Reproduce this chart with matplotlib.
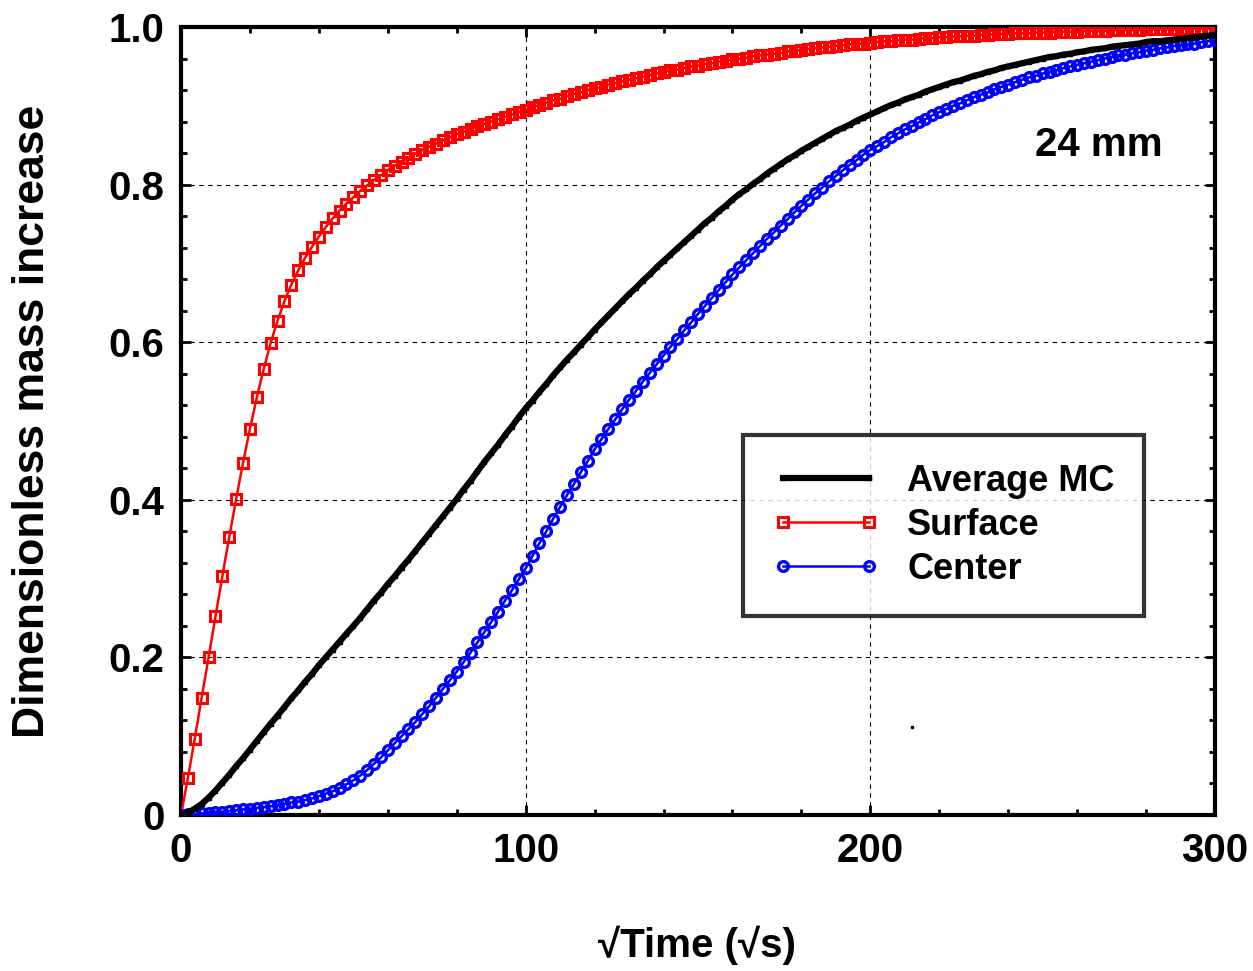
import matplotlib
matplotlib.use("Agg")
import matplotlib.pyplot as plt
import numpy as np
from matplotlib.ticker import MultipleLocator, FixedLocator

plt.rcParams['font.family'] = ['Liberation Sans', 'DejaVu Sans']
plt.rcParams['font.weight'] = 'bold'

# sqrt(time) positions (sqrt s)
sqrt_time = list(range(0, 301, 2))

surface = [
    0.000, 0.047, 0.097, 0.149, 0.200, 0.252, 0.303, 0.353, 0.401, 0.447,
    0.490, 0.530, 0.566, 0.599, 0.627, 0.652, 0.673, 0.691, 0.707, 0.721,
    0.734, 0.746, 0.757, 0.767, 0.776, 0.784, 0.792, 0.799, 0.806, 0.812,
    0.818, 0.824, 0.829, 0.834, 0.839, 0.844, 0.848, 0.852, 0.856, 0.860,
    0.864, 0.867, 0.871, 0.874, 0.877, 0.880, 0.883, 0.886, 0.889, 0.892,
    0.895, 0.898, 0.901, 0.904, 0.907, 0.909, 0.912, 0.915, 0.917, 0.920,
    0.922, 0.924, 0.927, 0.929, 0.931, 0.933, 0.935, 0.937, 0.939, 0.941,
    0.943, 0.945, 0.946, 0.948, 0.950, 0.951, 0.953, 0.954, 0.956, 0.957,
    0.959, 0.960, 0.961, 0.963, 0.964, 0.965, 0.966, 0.967, 0.969, 0.970,
    0.971, 0.972, 0.973, 0.974, 0.975, 0.976, 0.977, 0.978, 0.979, 0.979,
    0.980, 0.981, 0.982, 0.982, 0.983, 0.984, 0.984, 0.985, 0.986, 0.986,
    0.987, 0.987, 0.988, 0.988, 0.989, 0.989, 0.990, 0.990, 0.991, 0.991,
    0.991, 0.992, 0.992, 0.992, 0.993, 0.993, 0.993, 0.994, 0.994, 0.994,
    0.994, 0.995, 0.995, 0.995, 0.995, 0.996, 0.996, 0.996, 0.996, 0.996,
    0.997, 0.997, 0.997, 0.997, 0.997, 0.997, 0.998, 0.998, 0.998, 0.998,
    0.998,
]

average = [
    0.000, 0.003, 0.008, 0.014, 0.022, 0.031, 0.041, 0.051, 0.062, 0.072,
    0.083, 0.094, 0.105, 0.116, 0.126, 0.137, 0.148, 0.158, 0.169, 0.179,
    0.190, 0.200, 0.210, 0.220, 0.230, 0.240, 0.250, 0.261, 0.272, 0.282,
    0.293, 0.303, 0.314, 0.324, 0.335, 0.346, 0.357, 0.368, 0.379, 0.390,
    0.401, 0.413, 0.424, 0.436, 0.448, 0.459, 0.470, 0.482, 0.493, 0.505,
    0.516, 0.526, 0.537, 0.547, 0.558, 0.568, 0.578, 0.587, 0.597, 0.606,
    0.616, 0.625, 0.634, 0.643, 0.652, 0.661, 0.669, 0.678, 0.686, 0.695,
    0.703, 0.711, 0.719, 0.727, 0.735, 0.743, 0.751, 0.758, 0.766, 0.773,
    0.781, 0.788, 0.794, 0.801, 0.807, 0.814, 0.820, 0.826, 0.832, 0.837,
    0.843, 0.848, 0.853, 0.858, 0.863, 0.868, 0.872, 0.876, 0.881, 0.885,
    0.889, 0.893, 0.897, 0.901, 0.904, 0.908, 0.911, 0.914, 0.918, 0.921,
    0.924, 0.927, 0.930, 0.932, 0.935, 0.938, 0.940, 0.943, 0.945, 0.948,
    0.950, 0.952, 0.954, 0.956, 0.958, 0.960, 0.962, 0.963, 0.965, 0.966,
    0.968, 0.969, 0.971, 0.972, 0.973, 0.975, 0.976, 0.977, 0.978, 0.979,
    0.981, 0.982, 0.982, 0.983, 0.984, 0.985, 0.986, 0.987, 0.988, 0.989,
    0.990,
]

center = [
    0.000, 0.001, 0.001, 0.002, 0.003, 0.004, 0.004, 0.005, 0.006, 0.007,
    0.008, 0.009, 0.010, 0.011, 0.013, 0.014, 0.016, 0.017, 0.019, 0.021,
    0.024, 0.027, 0.030, 0.034, 0.039, 0.044, 0.050, 0.057, 0.065, 0.073,
    0.082, 0.091, 0.100, 0.109, 0.118, 0.128, 0.138, 0.149, 0.160, 0.171,
    0.182, 0.194, 0.206, 0.219, 0.232, 0.245, 0.258, 0.272, 0.285, 0.299,
    0.313, 0.329, 0.345, 0.360, 0.376, 0.391, 0.406, 0.420, 0.435, 0.449,
    0.464, 0.477, 0.490, 0.502, 0.515, 0.527, 0.538, 0.550, 0.561, 0.572,
    0.583, 0.594, 0.604, 0.615, 0.625, 0.636, 0.646, 0.656, 0.666, 0.676,
    0.686, 0.695, 0.704, 0.713, 0.722, 0.731, 0.739, 0.748, 0.756, 0.765,
    0.773, 0.781, 0.789, 0.796, 0.804, 0.811, 0.818, 0.825, 0.831, 0.838,
    0.844, 0.849, 0.854, 0.860, 0.865, 0.870, 0.874, 0.879, 0.883, 0.888,
    0.892, 0.896, 0.900, 0.903, 0.907, 0.911, 0.914, 0.917, 0.921, 0.924,
    0.927, 0.930, 0.933, 0.936, 0.938, 0.941, 0.943, 0.945, 0.948, 0.950,
    0.952, 0.954, 0.956, 0.958, 0.960, 0.962, 0.964, 0.965, 0.967, 0.968,
    0.970, 0.971, 0.973, 0.974, 0.976, 0.977, 0.978, 0.979, 0.981, 0.982,
    0.983,
]

# stray dot visible in the original figure
stray_x = [212]
stray_y = [0.112]

x_ticks = [0, 100, 200, 300]
x_tick_labels = ["0", "100", "200", "300"]
y_ticks = [0, 0.2, 0.4, 0.6, 0.8, 1.0]
y_tick_labels = ["0", "0.2", "0.4", "0.6", "0.8", "1.0"]

fig = plt.figure(figsize=(12.53, 9.71), dpi=100)
ax = fig.add_axes([181/1253, 1-815/971, (1215-181)/1253, (815-27)/971])

ax.plot(sqrt_time, average, color='black', lw=4.5, marker='s', ms=3,
        mfc='black', mec='black', label='Average MC', zorder=4)
ax.plot(sqrt_time, surface, color='red', lw=1.8, marker='s', ms=7.5,
        mfc='none', mec='red', mew=2.2, label='Surface', zorder=3)
ax.plot(sqrt_time, center, color='blue', lw=1.8, marker='o', ms=7,
        mfc='none', mec='blue', mew=2.4, label='Center', zorder=3)
ax.plot(stray_x, stray_y, linestyle='none', marker='s', ms=1.5,
        color='black')

ax.set_xlim(0, 300)
ax.set_ylim(0, 1.0)
ax.xaxis.set_major_locator(FixedLocator(x_ticks))
ax.set_xticklabels(x_tick_labels)
ax.yaxis.set_major_locator(FixedLocator(y_ticks))
ax.set_yticklabels(y_tick_labels)
ax.xaxis.set_minor_locator(MultipleLocator(20))
ax.yaxis.set_minor_locator(MultipleLocator(0.04))
ax.tick_params(which='both', direction='in', top=True, right=True,
               labelsize=29, width=2, pad=12)
ax.tick_params(which='major', length=7)
ax.tick_params(which='minor', length=4)
for lbl in ax.get_xticklabels() + ax.get_yticklabels():
    lbl.set_fontweight('bold')
ax.grid(True, which='major', color='black', linestyle=(0, (4, 4)), lw=0.8)
for s in ax.spines.values():
    s.set_linewidth(3)

fig.text(697/1253, 1-945/971, '\u221aTime (\u221as)', ha='center', va='center',
         fontsize=29, fontweight='bold')
fig.text(33/1253, 1-421/971, 'Dimensionless mass increase', ha='center',
         va='center', rotation=90, fontsize=32, fontweight='bold')
ax.text(1099/1253, 1-145/971, '24 mm', transform=fig.transFigure,
        ha='center', va='center', fontsize=29, fontweight='bold')

leg = ax.legend(loc='upper left', bbox_to_anchor=(743/1253, 1-435/971),
                bbox_transform=fig.transFigure, fontsize=26, frameon=True,
                fancybox=False, edgecolor='black', handlelength=3.0,
                handletextpad=0.75, borderpad=0.8, labelspacing=0.25,
                borderaxespad=0, numpoints=2)
leg.get_frame().set_linewidth(3)
for t in leg.get_texts():
    t.set_fontweight('bold')

fig.savefig('out.png', dpi=100)
